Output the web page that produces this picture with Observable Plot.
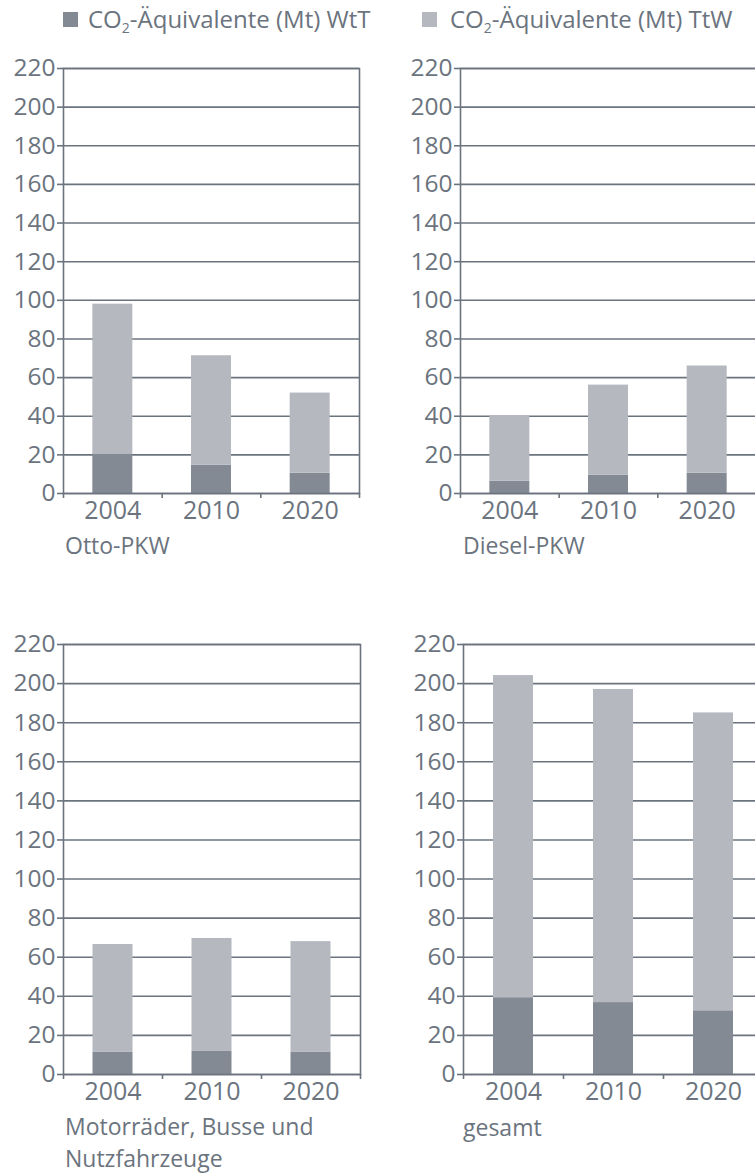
<!DOCTYPE html>
<html><head><meta charset="utf-8">
<script src="https://cdn.jsdelivr.net/npm/d3@7"></script>
<script src="https://cdn.jsdelivr.net/npm/@observablehq/plot@0.6"></script>
<style>
body{margin:0;background:#fff;}
#root{position:relative;width:755px;height:1173px;overflow:hidden;font-family:"Open Sans",sans-serif;color:#6b747e;}
.panel{position:absolute;}
.cap{position:absolute;font-size:23px;line-height:32px;white-space:nowrap;}
.leg{position:absolute;top:0;font-size:24px;line-height:38px;white-space:nowrap;}
.sw{position:absolute;width:15px;height:15px;top:12px;}
</style></head>
<body><div id="root"></div>
<script>
const years = ["2004", "2010", "2020"];
const yTicks = [0, 20, 40, 60, 80, 100, 120, 140, 160, 180, 200, 220];
const seriesNames = ["CO₂-Äquivalente (Mt) WtT", "CO₂-Äquivalente (Mt) TtW"];
const seriesColors = ["#838a93", "#b5b8bf"];
const titles = ["Otto-PKW", "Diesel-PKW", "Motorräder, Busse und\nNutzfahrzeuge", "gesamt"];
const wttOtto = [20.5, 14.7, 10.5];
const ttwOtto = [77.5, 56.6, 41.5];
const wttDiesel = [6.4, 9.5, 10.5];
const ttwDiesel = [33.8, 46.6, 55.5];
const wttMotor = [11.3, 11.8, 11.3];
const ttwMotor = [55.2, 57.8, 56.7];
const wttGesamt = [39.3, 36.8, 32.6];
const ttwGesamt = [164.8, 160.2, 152.4];

const ink = "#6b747e";
const root = document.getElementById("root");

function chart(wtt, ttw, plotW, plotH) {
  const rows = years.map((y, i) => ({i, year: y, wtt: wtt[i], total: wtt[i] + ttw[i]}));
  const inset = (plotW / years.length - 40) / 2;
  const mL = 63, mR = 2, mT = 10, mB = 40;
  return Plot.plot({
    width: mL + plotW + mR,
    height: mT + plotH + mB,
    marginLeft: mL, marginRight: mR, marginTop: mT, marginBottom: mB,
    style: {fontFamily: "'Open Sans', sans-serif", fontSize: "25px", color: ink, overflow: "visible", maxWidth: "none", background: "transparent"},
    x: {type: "linear", domain: [0, years.length]},
    y: {domain: [0, 220]},
    marks: [
      Plot.ruleY(yTicks, {stroke: ink, strokeWidth: 1.6}),
      Plot.rect(rows, {x1: "i", x2: d => d.i + 1, y1: 0, y2: "wtt", fill: seriesColors[0], insetLeft: inset, insetRight: inset}),
      Plot.rect(rows, {x1: "i", x2: d => d.i + 1, y1: "wtt", y2: "total", fill: seriesColors[1], insetLeft: inset, insetRight: inset}),
      Plot.frame({stroke: ink, strokeWidth: 1.6}),
      Plot.axisY({ticks: yTicks, tickSize: 6, tickPadding: 2, label: null, color: ink, strokeWidth: 1.6, fontSize: 24.5}),
      Plot.axisX({ticks: d3.range(years.length + 1), tickSize: 5, tickFormat: () => "", label: null, color: ink, strokeWidth: 1.6}),
      Plot.axisX({ticks: years.map((_, i) => i + 0.5), tickSize: 0, tickPadding: 8, tickFormat: v => years[Math.floor(v)], label: null, color: ink, fontSize: 25})
    ]
  });
}

function place(node, left, top) {
  node.classList.add("panel");
  node.style.left = left + "px";
  node.style.top = top + "px";
  root.appendChild(node);
}

const top1 = 68 - 10, top2 = 644 - 10;
place(chart(wttOtto, ttwOtto, 296, 425), 0, top1);
place(chart(wttDiesel, ttwDiesel, 296, 425), 397, top1);
place(chart(wttMotor, ttwMotor, 297, 430), 0, top2);
place(chart(wttGesamt, ttwGesamt, 300, 430), 400, top2);

// legend
[[63, 88], [422, 450]].forEach(([sx, tx], k) => {
  const sw = document.createElement("div");
  sw.className = "sw"; sw.style.left = sx + "px"; sw.style.background = seriesColors[k];
  root.appendChild(sw);
  const t = document.createElement("div");
  t.className = "leg"; t.style.left = tx + "px";
  t.innerHTML = seriesNames[k].replace("₂", '<sub style="font-size:14px;vertical-align:-5px">2</sub>');
  root.appendChild(t);
});

// captions
[[65, 529], [463, 529], [65, 1110], [463, 1111]].forEach(([x, y], k) => {
  const c = document.createElement("div");
  c.className = "cap"; c.style.left = x + "px"; c.style.top = y + "px";
  c.innerHTML = titles[k].replace("\n", "<br>");
  root.appendChild(c);
});
</script></body></html>
